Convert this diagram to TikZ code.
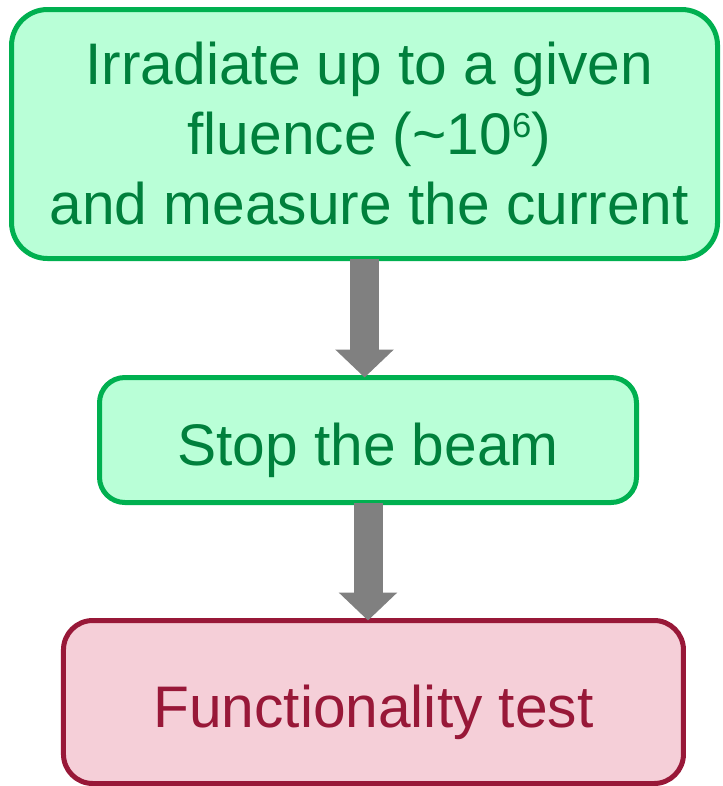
\documentclass[tikz,border=0pt]{standalone}
\usepackage{fontspec}
\setmainfont{Liberation Sans}
\usetikzlibrary{positioning,arrows.meta}

\definecolor{mintfill}{RGB}{185,255,215}
\definecolor{mintline}{RGB}{0,176,80}
\definecolor{minttext}{RGB}{0,128,60}
\definecolor{rosefill}{RGB}{245,207,216}
\definecolor{roseline}{RGB}{152,24,56}

\begin{document}
\begin{tikzpicture}[
    node distance=88.5pt,
    stage/.style={rectangle, draw, line width=3.75pt, inner sep=0pt, outer sep=0pt, align=center, font=\fontsize{44}{52.5}\selectfont},
    one_line/.style={text height=38pt, text depth=0pt},
    run_block/.style={stage, fill=mintfill, draw=mintline, text=minttext},
    test_block/.style={stage, fill=rosefill, draw=roseline, text=roseline},
    flow/.style={-{Triangle[length=21pt, width=42.75pt]}, line width=21.75pt, draw=black!50}
]

% page frame
\useasboundingbox (0,0) rectangle (541.5pt,-589.5pt);

% Irradiation step
\node[run_block, rounded corners=27pt, minimum width=529.5pt, minimum height=186.75pt] (irradiate) at (273.4pt,-100.5pt)
    {\hspace*{7pt}Irradiate up to a given\\\hspace*{7pt}fluence (\textasciitilde10\raisebox{13pt}{\fontsize{26}{26}\selectfont 6})\\\hspace*{7pt}and measure the current};

% Beam off
\node[run_block, one_line, rounded corners=19pt, minimum width=402.75pt, minimum height=93.75pt, below=89.25pt of irradiate, xshift=2.6pt] (stopbeam)
    {Stop the beam};

% Final check
\node[test_block, one_line, rounded corners=22pt, minimum width=465pt, minimum height=122.25pt, below=of stopbeam, xshift=4.1pt] (functest)
    {Functionality test};

% Arrows between the stages
\draw[flow] (irradiate.south) -- (irradiate.south |- stopbeam.north);
\draw[flow] (stopbeam.south) -- (stopbeam.south |- functest.north);

\end{tikzpicture}
\end{document}
